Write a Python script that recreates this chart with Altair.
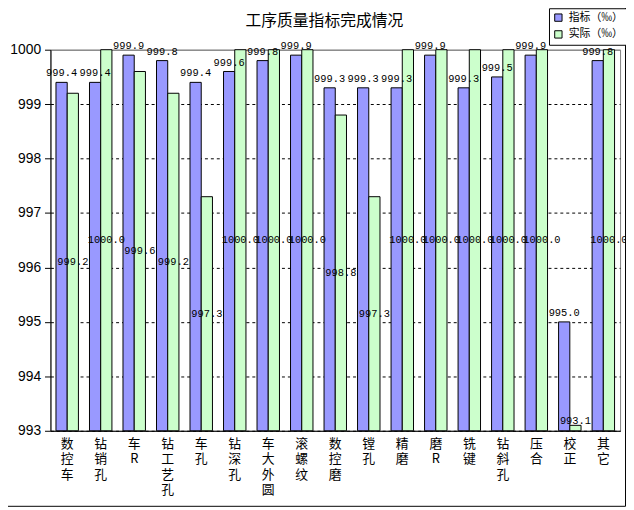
import altair as alt
import pandas as pd

categories = ["数控车", "钻销孔", "车R", "钻工艺孔", "车孔", "钻深孔", "车大外圆", "滚螺纹",
              "数控磨", "镗孔", "精磨", "磨R", "铣键", "钻斜孔", "压合", "校正", "其它"]
target = [999.4, 999.4, 999.9, 999.8, 999.4, 999.6, 999.8, 999.9,
          999.3, 999.3, 999.3, 999.9, 999.3, 999.5, 999.9, 995.0, 999.8]
actual = [999.2, 1000.0, 999.6, 999.2, 997.3, 1000.0, 1000.0, 1000.0,
          998.8, 997.3, 1000.0, 1000.0, 1000.0, 1000.0, 1000.0, 993.1, 1000.0]
series = ["指标（‰）", "实际（‰）"]
colors = ["#9999FF", "#CCFFCC"]
y_ticks = [993, 994, 995, 996, 997, 998, 999, 1000]
title_text = "工序质量指标完成情况"

rows = []
for c, t, a in zip(categories, target, actual):
    rows.append({"cat": c, "series": series[0], "value": t})
    rows.append({"cat": c, "series": series[1], "value": a})
df = pd.DataFrame(rows)

CJK = "Noto Sans CJK SC"

x_enc = alt.X("cat:N", sort=categories,
              scale=alt.Scale(paddingInner=0.33, paddingOuter=0.165),
              axis=alt.Axis(title=None, labelAngle=0, labelExpr="split(datum.label, '')",
                            labelFont=CJK, labelFontSize=13, labelLineHeight=15.5,
                            labelBaseline="top", labelAlign="center", labelPadding=7,
                            ticks=False, domainColor="black", domainWidth=1,
                            labelColor="black", grid=False))
xo_enc = alt.XOffset("series:N", sort=series, scale=alt.Scale(paddingInner=0, paddingOuter=0))
y_scale = alt.Scale(domain=[993, 1000], zero=False, nice=False)

base = alt.Chart(df)

bars = base.mark_bar(stroke="black", strokeWidth=1).encode(
    x=x_enc,
    xOffset=xo_enc,
    y=alt.Y("value:Q", scale=y_scale,
            axis=alt.Axis(title=None, values=y_ticks, format="d",
                          labelFont="Liberation Sans", labelFontSize=14, labelColor="black",
                          tickSize=6, tickColor="black", labelPadding=4,
                          domainColor="black", domainWidth=1,
                          grid=True,
                          gridColor={"condition": {"test": "datum.value === 1000", "value": "#808080"}, "value": "black"},
                          gridDash={"condition": {"test": "datum.value === 1000", "value": []}, "value": [3, 3]})),
    y2=alt.Y2(datum=993),
    color=alt.Color("series:N", sort=series,
                    scale=alt.Scale(domain=series, range=colors),
                    legend=alt.Legend(title=None, orient="none", legendX=505, legendY=-42,
                                      strokeColor="black", fillColor="white", padding=4,
                                      symbolType="square", symbolSize=55,
                                      symbolStrokeColor="black", symbolStrokeWidth=1,
                                      labelFont=CJK, labelFontSize=11, labelColor="black",
                                      rowPadding=4, labelOffset=5)),
)

lbl_target = base.transform_filter(
    alt.datum.series == series[0]
).mark_text(font="Liberation Mono", fontSize=10.5, color="black",
            baseline="alphabetic", dy=-6).encode(
    x=alt.X("cat:N", sort=categories),
    xOffset=alt.XOffset("series:N", sort=series),
    y=alt.Y("value:Q", scale=y_scale),
    text=alt.Text("value:Q", format=".1f"),
)

lbl_actual = base.transform_filter(
    alt.datum.series == series[1]
).transform_calculate(
    mid="max((datum.value + 993) / 2, 993.18)"
).mark_text(font="Liberation Mono", fontSize=10.5, color="black",
            baseline="middle").encode(
    x=alt.X("cat:N", sort=categories),
    xOffset=alt.XOffset("series:N", sort=series),
    y=alt.Y("mid:Q", scale=y_scale),
    text=alt.Text("value:Q", format=".1f"),
)

title_df = pd.DataFrame({"t": [title_text]})
title = alt.Chart(title_df).mark_text(font=CJK, fontSize=16, color="black",
                                      baseline="middle", align="center").encode(
    text="t:N", x=alt.value(277.5), y=alt.value(-29.5))

frame_r = alt.Chart(title_df).mark_rule(color="black", strokeWidth=1).encode(
    x=alt.value(582.5), y=alt.value(-47), y2=alt.value(462.5))
frame_b = alt.Chart(title_df).mark_rule(color="black", strokeWidth=1).encode(
    y=alt.value(462.5), x=alt.value(-51), x2=alt.value(582.5))

chart = alt.layer(bars, lbl_target, lbl_actual, title, frame_r, frame_b).resolve_scale(
    x="shared", y="shared"
).properties(
    width=577, height=386,
    padding={"left": 43, "top": 39, "right": 6, "bottom": 77},
    autosize=alt.AutoSizeParams(type="none"),
    background="white",
).configure_view(stroke="#808080", strokeWidth=1)

chart.save("out.html", embed_options={"renderer": "svg", "actions": False})
